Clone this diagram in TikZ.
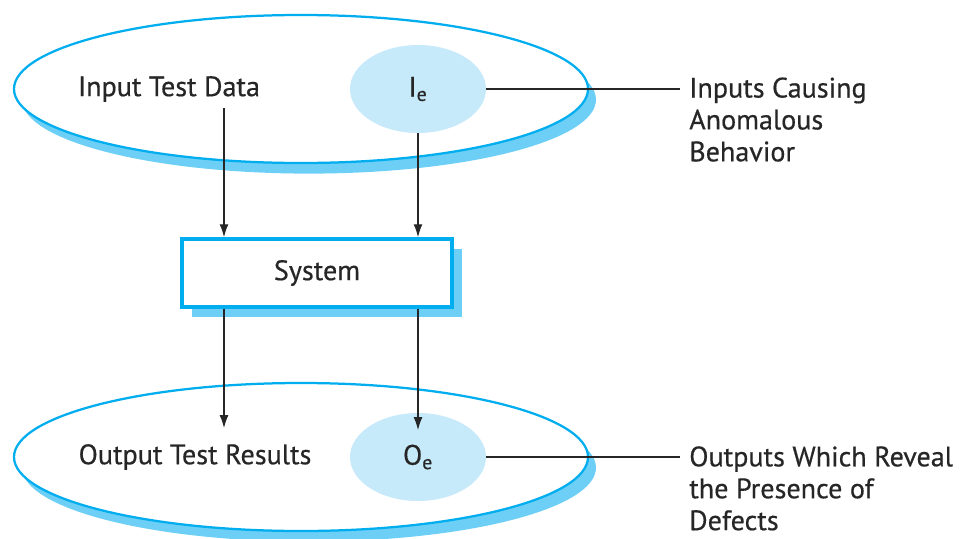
\documentclass[tikz,border=0pt]{standalone}
\usepackage{fontspec}
\setmainfont{PT Sans}[FakeBold=0.5]
\usepackage{tikz}
\usetikzlibrary{shapes.geometric,arrows.meta,positioning,calc}
\usepackage{xcolor}
\definecolor{edgeblue}{RGB}{0,174,239}
\definecolor{shadeblue}{RGB}{109,207,246}
\definecolor{paleblue}{RGB}{199,234,251}

\tikzset{
  txt/.style={font=\fontsize{20}{22.7}\selectfont, inner sep=0pt, text=black!85},
  flow/.style={-{Latex[length=3.2mm,width=2.2mm]}, line width=0.8pt, black!85},
  lead/.style={-, line width=0.8pt, black!85},
  blob/.style={ellipse, fill=paleblue, minimum width=3.4cm, minimum height=2.2cm, inner sep=0pt}
}

\begin{document}
\begin{tikzpicture}
\useasboundingbox (0,0) rectangle (24,-13.45);

% input set
\fill[shadeblue] (7.725,-2.49) ellipse [x radius=7.175, y radius=1.85];
\draw[edgeblue, line width=1.6pt, fill=white] (7.525,-2.225) ellipse [x radius=7.175, y radius=1.85];
\node[blob] (ie) at (10.45,-2.225) {};
\node[txt] at (ie) {I\textsubscript{e}};
\node[txt] (indata) at (4.225,-2.225) {Input Test Data};

% output set
\fill[shadeblue] (7.725,-11.69) ellipse [x radius=7.175, y radius=1.85];
\draw[edgeblue, line width=1.6pt, fill=white] (7.525,-11.425) ellipse [x radius=7.175, y radius=1.85];
\node[blob] (oe) at (10.45,-11.425) {};
\node[txt] at (oe) {O\textsubscript{e}};
\node[txt] (outres) at (4.875,-11.425) {Output Test Results};

% system
\fill[shadeblue] (4.8,-6.225) rectangle (11.55,-7.925);
\node[draw=edgeblue, line width=2.6pt, fill=white, minimum width=6.75cm, minimum height=1.7cm, txt] (sys) at (7.925,-6.825) {System};

% arrows
\coordinate (inTop) at (5.6,-2.7);
\coordinate (outTip) at (5.6,-10.7);
\coordinate (oeTip) at (10.45,-10.75);
\draw[flow] (inTop) -- (inTop |- sys.north);
\draw[flow] (ie.south) -- (ie.south |- sys.north);
\draw[flow] (sys.south -| outTip) -- (outTip);
\draw[flow] (sys.south -| oeTip) -- (oeTip);

% labels
\node[txt, anchor=north west, align=left] (causes) at (17.225,-1.93) {Inputs Causing\\Anomalous\\Behavior};
\node[txt, anchor=north west, align=left] (reveal) at (17.225,-11.15) {Outputs Which Reveal\\the Presence of\\Defects};
\coordinate (inLead) at (17.0,-2.225);
\coordinate (outLead) at (17.0,-11.425);
\draw[lead] (ie.east) -- (inLead);
\draw[lead] (oe.east) -- (outLead);

\end{tikzpicture}
\end{document}
